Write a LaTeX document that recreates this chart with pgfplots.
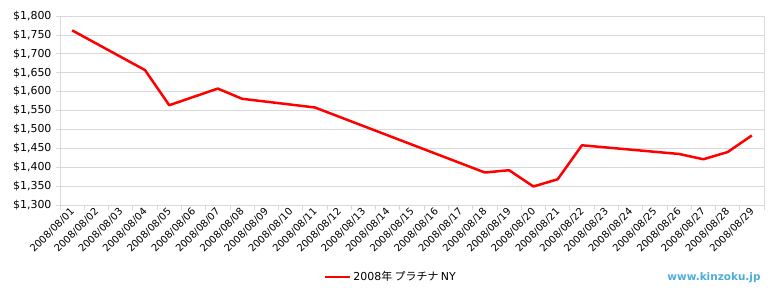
\documentclass[border=0pt]{standalone}
\usepackage{fontspec}
\setmainfont{DejaVu Sans}
\newfontfamily\cjk{Noto Sans CJK JP}
\usepackage{pgfplots}
\pgfplotsset{compat=1.18}
\definecolor{gridgray}{RGB}{217,217,217}
\definecolor{kblue}{RGB}{75,172,220}
\begin{document}
\begin{tikzpicture}[x=1bp,y=1bp]
\path[use as bounding box] (0,0) rectangle (780,300);
\begin{axis}[
  at={(60bp,95bp)}, anchor=south west,
  scale only axis, width=704bp, height=189bp,
  xmin=0.5, xmax=29.5, ymin=1300, ymax=1800,
  ytick={1300,1350,...,1800},
  xtick={1,...,29},
  xticklabels={2008/08/01,2008/08/02,2008/08/03,2008/08/04,2008/08/05,2008/08/06,2008/08/07,2008/08/08,2008/08/09,2008/08/10,2008/08/11,2008/08/12,2008/08/13,2008/08/14,2008/08/15,2008/08/16,2008/08/17,2008/08/18,2008/08/19,2008/08/20,2008/08/21,2008/08/22,2008/08/23,2008/08/24,2008/08/25,2008/08/26,2008/08/27,2008/08/28,2008/08/29},
  minor xtick={0.5,1.5,...,29.5},
  major x tick style={draw=none},
  minor x tick style={gridgray, line width=0.8pt},
  minor tick length=5bp,
  y tick style={gridgray, line width=0.8pt},
  major tick length=4bp,
  tick align=outside,
  ymajorgrids, major grid style={gridgray, line width=0.8pt},
  axis line style={gridgray, line width=0.8pt},
  axis x line*=bottom, axis y line*=left,
  yticklabel={\$\pgfmathprintnumber{\tick}},
  /pgf/number format/assume math mode=true,
  /pgf/number format/1000 sep={,},
  yticklabel style={font=\fontsize{11}{12}\selectfont, xshift=-1bp},
  xticklabel style={font=\fontsize{10}{11}\selectfont, rotate=45, anchor=east, xshift=3bp, yshift=-1bp},
  legend style={at={(axis description cs:0.47,-0.38)}, anchor=center, draw=none, fill=none, font=\fontsize{11}{12}\selectfont},
  legend image code/.code={\draw[#1, line width=2.5bp] (0bp,0bp) -- (25bp,0bp);},
  clip=false,
]
\draw[gridgray, line width=0.8pt] (rel axis cs:1,0) -- (rel axis cs:1,1);
\addplot[red, line width=2.5bp, line join=round] coordinates {
(1,1762) (4,1657) (5,1564) (7,1608) (8,1581) (11,1558) (18,1386) (19,1392) (20,1349) (21,1368) (22,1458) (26,1435) (27,1421) (28,1440) (29,1484)
};
\addlegendentry{2008{\cjk 年 プラチナ }NY}
\end{axis}
\node[anchor=east, text=kblue, font=\bfseries\fontsize{10.5}{12}\selectfont] at (764,22) {www.kinzoku.jp};
\end{tikzpicture}
\end{document}
